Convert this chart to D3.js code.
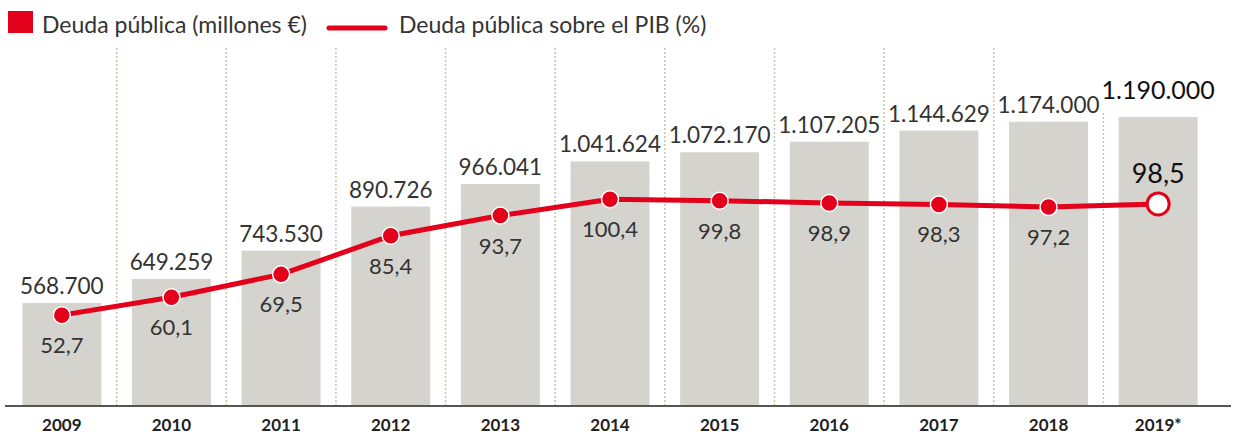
<!DOCTYPE html>
<html lang="es">
<head>
	<meta charset="UTF-8">
	<title>Deuda pública</title>
	<script type="text/javascript" src="https://cdn.jsdelivr.net/npm/d3@7/dist/d3.min.js"></script>
	<style>
		body {
			margin: 0;
			background: #fff;
			font-family: Lato, "Open Sans", sans-serif;
		}
		svg text {
			font-family: Lato, "Open Sans", sans-serif;
		}
	</style>
</head>
<body>
<div id="viz"></div>

<script type="text/javascript">
	// datos
	var years = ['2009', '2010', '2011', '2012', '2013', '2014', '2015', '2016', '2017', '2018', '2019*'];
	var debt = [568700, 649259, 743530, 890726, 966041, 1041624, 1072170, 1107205, 1144629, 1174000, 1190000];
	var pct = [52.7, 60.1, 69.5, 85.4, 93.7, 100.4, 99.8, 98.9, 98.3, 97.2, 98.5];
	var legendLabels = ['Deuda pública (millones €)', 'Deuda pública sobre el PIB (%)'];

	var width = 1238, height = 435;
	var baseY = 406;
	var red = '#e2001a', barColor = '#d5d3ce', textColor = '#333';

	var fmtDebt = function (v) {
		return d3.format(',')(v).replace(/,/g, '.');
	};
	var fmtPct = function (v) {
		return d3.format('.1f')(v).replace('.', ',');
	};

	var svg = d3.select('#viz')
		.append('svg')
		.attr('width', width)
		.attr('height', height);

	var x = d3.scaleBand()
		.domain(years)
		.range([7, 1213])
		.paddingInner(0.28)
		.paddingOuter(0.14);

	var step = x.step();

	// la escala de barras no parte de cero
	var yBar = d3.scaleLinear()
		.domain([225000, 1300000])
		.range([baseY, baseY - 322]);

	var yPct = d3.scaleLinear()
		.domain([40, 110])
		.range([346, 176]);

	var cx = function (d, i) {
		return x(years[i]) + x.bandwidth() / 2;
	};

	var last = years.length - 1;
	var bigLabelY = yBar(debt[last]) - 18;

	// separadores punteados
	svg.append('g')
		.selectAll('line')
		.data(years.slice(1))
		.enter().append('line')
		.attr('x1', function (d) { return x(d) - step * 0.14; })
		.attr('x2', function (d) { return x(d) - step * 0.14; })
		.attr('y1', function (d, i) { return i === last - 1 ? bigLabelY + 14 : 48; })
		.attr('y2', baseY)
		.attr('stroke', '#c6c6ab')
		.attr('stroke-width', 1.5)
		.attr('stroke-dasharray', '2,2');

	// barras
	svg.append('g')
		.selectAll('rect')
		.data(debt)
		.enter().append('rect')
		.attr('x', function (d, i) { return x(years[i]); })
		.attr('width', x.bandwidth())
		.attr('y', function (d) { return yBar(d); })
		.attr('height', function (d) { return baseY - yBar(d); })
		.attr('fill', barColor);

	// eje
	svg.append('line')
		.attr('x1', 5).attr('x2', 1231)
		.attr('y1', baseY).attr('y2', baseY)
		.attr('stroke', '#555')
		.attr('stroke-width', 2);

	svg.append('g')
		.selectAll('text')
		.data(years)
		.enter().append('text')
		.attr('x', function (d) { return x(d) + x.bandwidth() / 2; })
		.attr('y', 431)
		.attr('text-anchor', 'middle')
		.attr('font-size', 17)
		.attr('font-weight', 'bold')
		.attr('fill', '#222')
		.text(function (d) { return d; });

	// etiquetas de las barras
	svg.append('g')
		.selectAll('text')
		.data(debt)
		.enter().append('text')
		.attr('x', cx)
		.attr('y', function (d, i) { return i === last ? bigLabelY : yBar(d) - 9; })
		.attr('text-anchor', 'middle')
		.attr('font-size', function (d, i) { return i === last ? 25 : 22.5; })
		.attr('fill', function (d, i) { return i === last ? '#111' : textColor; })
		.text(fmtDebt);

	// línea % PIB
	var line = d3.line()
		.x(cx)
		.y(function (d) { return yPct(d); });

	svg.append('path')
		.datum(pct)
		.attr('d', line)
		.attr('fill', 'none')
		.attr('stroke', red)
		.attr('stroke-width', 5);

	svg.append('g')
		.selectAll('circle')
		.data(pct)
		.enter().append('circle')
		.attr('cx', cx)
		.attr('cy', function (d) { return yPct(d); })
		.attr('r', function (d, i) { return i === last ? 11 : 8.5; })
		.attr('fill', function (d, i) { return i === last ? '#fff' : red; })
		.attr('stroke', function (d, i) { return i === last ? red : '#fff'; })
		.attr('stroke-width', function (d, i) { return i === last ? 3 : 1.5; });

	svg.append('g')
		.selectAll('text')
		.data(pct)
		.enter().append('text')
		.attr('x', cx)
		.attr('y', function (d, i) { return i === last ? yPct(d) - 21 : yPct(d) + 38; })
		.attr('text-anchor', 'middle')
		.attr('font-size', function (d, i) { return i === last ? 27 : 22; })
		.attr('fill', function (d, i) { return i === last ? '#111' : textColor; })
		.text(fmtPct);

	// leyenda
	var legend = svg.append('g');
	legend.append('rect')
		.attr('x', 8).attr('y', 11)
		.attr('width', 25).attr('height', 22)
		.attr('fill', red);
	legend.append('text')
		.attr('x', 42).attr('y', 33)
		.attr('font-size', 23)
		.attr('fill', textColor)
		.text(legendLabels[0]);
	legend.append('line')
		.attr('x1', 329).attr('x2', 385)
		.attr('y1', 28).attr('y2', 28)
		.attr('stroke', red)
		.attr('stroke-width', 5)
		.attr('stroke-linecap', 'round');
	legend.append('text')
		.attr('x', 399).attr('y', 33)
		.attr('font-size', 23)
		.attr('fill', textColor)
		.text(legendLabels[1]);
</script>
</body>
</html>
